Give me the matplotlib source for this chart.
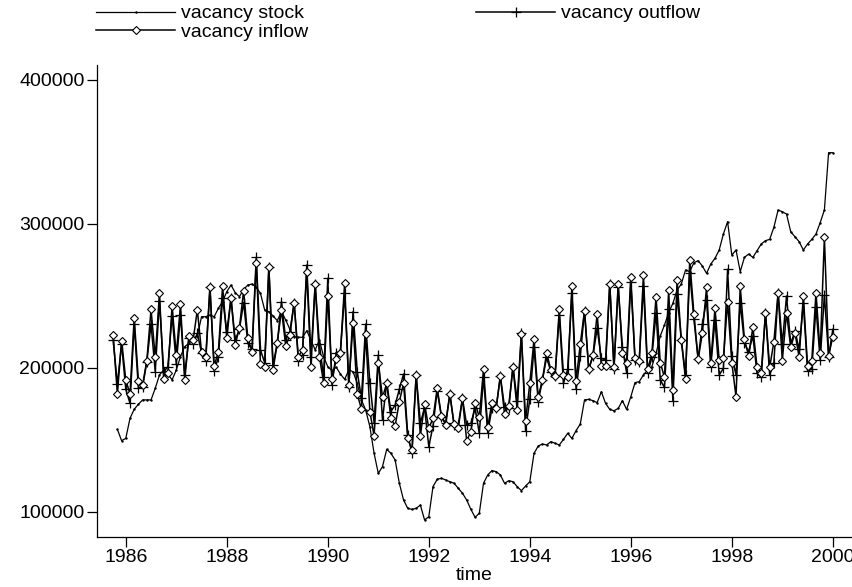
import numpy as np
import matplotlib
matplotlib.use("Agg")
import matplotlib.pyplot as plt
from matplotlib import font_manager

# monthly series, values in thousands (Oct 1985 .. Jan 2000)
start_year = 1985.75

inflow_k = [
    222.9, 181.9, 219.0, 191.7, 181.9, 234.9, 191.0, 188.2, 205.1, 240.7,
    207.4, 251.8, 192.1, 196.7, 243.0, 209.0, 244.2, 191.7, 222.4, 219.4,
    240.3, 211.3, 207.9, 256.0, 201.4, 211.3, 256.9, 220.6, 248.8, 216.0,
    228.0, 253.7, 220.6, 211.3, 273.1, 202.8, 200.5, 269.9, 198.6, 217.6,
    240.3, 215.3, 222.9, 245.4, 207.9, 212.5, 266.9, 200.9, 258.3, 207.9,
    189.8, 250.0, 192.1, 206.0, 210.6, 258.8, 188.2, 231.0, 181.9, 171.3,
    223.6, 169.7, 152.8, 203.7, 179.6, 189.3, 165.0, 159.7, 176.6, 189.3,
    151.1, 143.0, 195.1, 152.8, 175.0, 158.1, 165.0, 185.9, 166.7, 160.4,
    181.9, 161.1, 158.1, 178.9, 149.5, 155.8, 175.9, 165.7, 199.1, 158.8,
    175.9, 172.0, 194.4, 168.0, 173.6, 200.9, 170.8, 223.6, 163.4, 189.3,
    219.9, 179.6, 191.7, 210.6, 198.6, 194.4, 240.7, 195.1, 193.5, 256.9,
    191.2, 216.7, 239.8, 199.1, 208.7, 237.5, 201.3, 201.3, 258.3, 200.4,
    258.3, 210.1, 203.7, 263.4, 206.7, 205.0, 264.5, 199.0, 210.1, 249.5,
    203.7, 193.5, 254.1, 184.7, 261.1, 219.4, 192.1, 275.0, 237.5, 206.0,
    224.0, 256.0, 203.7, 241.4, 205.5, 206.7, 246.0, 203.7, 180.0, 256.9,
    219.9, 208.3, 228.2, 200.4, 196.7, 238.4, 200.4, 218.2, 252.3, 205.0,
    238.4, 214.3, 224.5, 207.4, 250.0, 201.3, 205.0, 252.3, 210.6, 290.7,
    208.3, 221.7,
]

outflow_k = [
    219.4, 188.6, 216.7, 185.2, 175.4, 230.5, 185.9, 187.0, 204.4, 230.5,
    197.4, 246.8, 197.4, 200.9, 236.3, 202.8, 236.8, 195.1, 220.6, 216.7,
    224.1, 210.6, 205.1, 256.0, 197.9, 207.4, 248.4, 225.2, 248.4, 219.4,
    226.8, 245.4, 217.1, 213.0, 276.8, 212.5, 203.7, 269.9, 202.1, 217.1,
    246.1, 219.4, 225.2, 245.4, 205.1, 209.0, 271.5, 207.9, 258.3, 216.7,
    193.5, 262.3, 188.2, 210.6, 211.3, 252.3, 187.0, 239.1, 197.4, 178.9,
    230.5, 189.8, 162.0, 209.0, 163.9, 189.8, 169.7, 174.3, 185.2, 195.8,
    153.5, 140.7, 195.1, 162.0, 172.0, 145.4, 159.7, 184.2, 166.2, 161.6,
    181.9, 160.4, 160.4, 178.9, 160.4, 161.6, 172.0, 154.6, 193.5, 155.1,
    172.0, 172.0, 194.4, 172.7, 172.0, 200.9, 177.3, 224.1, 156.5, 178.2,
    214.3, 176.6, 191.7, 207.4, 197.4, 194.4, 236.8, 189.3, 199.1, 251.8,
    185.2, 208.3, 239.8, 199.1, 208.3, 227.5, 206.7, 205.5, 258.3, 199.0,
    256.0, 214.3, 196.7, 259.9, 205.5, 204.4, 256.9, 196.2, 207.4, 238.4,
    191.6, 186.5, 240.7, 177.3, 251.3, 219.4, 195.1, 266.2, 233.8, 206.0,
    230.5, 247.2, 200.9, 233.3, 195.1, 199.7, 268.5, 208.3, 195.1, 245.3,
    217.1, 211.3, 222.2, 196.2, 193.5, 238.4, 195.1, 203.7, 252.3, 216.6,
    250.0, 216.6, 225.9, 213.0, 244.9, 198.1, 199.0, 242.1, 205.5, 250.7,
    207.9, 226.8,
]

stock_k = [
    np.nan, 157.4, 149.5, 151.1, 165.0, 171.3, 174.8, 177.8, 177.8, 177.8,
    185.9, 195.1, 198.6, 195.8, 191.7, 198.6, 207.9, 214.8, 217.1, 220.6,
    222.2, 235.6, 235.6, 236.8, 235.6, 241.4, 246.1, 253.0, 257.6, 252.3,
    249.5, 254.6, 257.6, 258.3, 256.0, 251.8, 240.3, 239.1, 236.1, 232.9,
    239.1, 233.3, 226.8, 221.8, 221.3, 221.3, 225.9, 219.4, 212.5, 219.4,
    207.9, 200.9, 198.1, 200.5, 195.8, 192.1, 198.6, 197.4, 189.3, 177.8,
    170.8, 159.2, 140.7, 126.8, 131.5, 143.5, 140.7, 136.1, 119.9, 108.3,
    102.5, 101.8, 102.5, 104.8, 94.4, 96.7, 117.6, 122.7, 123.4, 122.2,
    121.0, 119.9, 116.4, 113.0, 108.3, 101.8, 96.3, 99.1, 119.9, 125.7,
    128.7, 128.0, 125.7, 119.9, 121.7, 121.0, 117.6, 114.8, 118.0, 121.0,
    140.7, 145.8, 147.2, 146.5, 148.8, 147.7, 146.5, 150.4, 154.6, 151.1,
    156.5, 161.1, 177.8, 178.2, 177.3, 175.9, 183.5, 175.4, 171.2, 170.3,
    171.9, 177.3, 171.2, 180.0, 189.8, 190.5, 195.1, 198.6, 200.9, 210.1,
    222.2, 229.8, 238.4, 244.9, 254.1, 258.3, 268.0, 266.9, 273.1, 274.5,
    270.8, 265.7, 272.2, 276.1, 281.9, 293.0, 301.6, 278.4, 281.9, 266.9,
    276.8, 279.1, 276.8, 281.4, 286.1, 288.4, 289.3, 297.7, 309.7, 308.5,
    306.9, 294.6, 291.2, 287.7, 281.9, 286.1, 289.3, 293.0, 300.9, 309.7,
    349.5, 349.5,
]

xticks = [1986, 1988, 1990, 1992, 1994, 1996, 1998, 2000]
yticks = [100000, 200000, 300000, 400000]

# pick a narrow sans if we have one
names = set(f.name for f in font_manager.fontManager.ttflist)
fam = 'Liberation Sans Narrow' if 'Liberation Sans Narrow' in names else 'Liberation Sans'
plt.rcParams['font.family'] = [fam, 'DejaVu Sans']

inflow = np.array(inflow_k) * 1000
outflow = np.array(outflow_k) * 1000
stock = np.array(stock_k) * 1000
t = start_year + np.arange(len(inflow)) / 12.0

fig = plt.figure(figsize=(8.53, 5.87), dpi=100)
ax = fig.add_axes([97/853, 1 - 537/587, 755/853, 472/587])

l1, = ax.plot(t, stock, color='black', lw=0.9, marker='.', ms=1.5, label='vacancy stock')
l2, = ax.plot(t, outflow, color='black', lw=1.1, marker='+', ms=7, mew=0.9, label='vacancy outflow')
l3, = ax.plot(t, inflow, color='black', lw=1.1, marker='D', ms=4.4, mew=0.8,
              mfc='white', mec='black', label='vacancy inflow')

ax.set_xlim(1985.43, 2000.38)
ax.set_ylim(82600, 410400)
ax.set_xticks(xticks)
ax.set_yticks(yticks)
ax.set_yticklabels([str(v) for v in yticks])
ax.tick_params(direction='out', length=7, width=0.9, labelsize=14, pad=2)
ax.set_xlabel('time', fontsize=14, labelpad=0)
ax.spines['top'].set_visible(False)
ax.spines['right'].set_visible(False)
for s in ['left', 'bottom']:
    ax.spines[s].set_linewidth(0.9)

fig.legend(handles=[l1, l3, l2], loc='upper left', bbox_to_anchor=(86/853, 1 + 5/587),
           ncol=2, frameon=False, fontsize=14, handlelength=4.1, handletextpad=0.3,
           columnspacing=8.6, labelspacing=0.05, borderaxespad=0.1)

fig.savefig('out.png', dpi=100)
